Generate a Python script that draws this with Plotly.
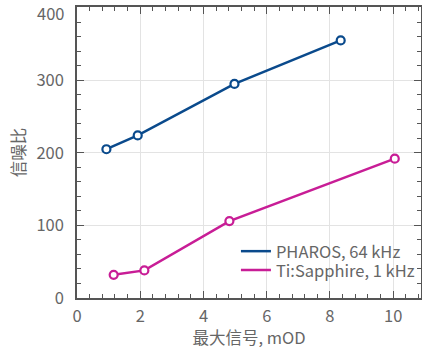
import plotly.graph_objects as go

pharos_x = [0.93, 1.92, 4.98, 8.34]
pharos_y = [205, 224, 295, 355]
ti_x = [1.16, 2.13, 4.82, 10.05]
ti_y = [32, 38, 106, 192]
series_names = ["PHAROS, 64 kHz", "Ti:Sapphire, 1 kHz"]
x_title = "最大信号, mOD"
y_title = "信噪比"
y_tickvals = [0, 100, 200, 300, 400]
y_ticktext = ["0", "100", "200", "300", ""]
y_top_label = "400"

BLUE = "#0a4a8c"
MAG = "#c81d96"
FONT = "Noto Sans CJK SC, Noto Sans, sans-serif"
FS = 16.5

fig = go.Figure()
for xs, ys, col in [(pharos_x, pharos_y, BLUE), (ti_x, ti_y, MAG)]:
    fig.add_trace(go.Scatter(
        x=xs, y=ys, mode="lines+markers", showlegend=False,
        line=dict(color=col, width=2.5),
        marker=dict(symbol="circle", size=8, color="white",
                    line=dict(color=col, width=2.2)),
    ))
for name, col, lg in [(series_names[0], BLUE, "legend"), (series_names[1], MAG, "legend2")]:
    fig.add_trace(go.Scatter(
        x=[None], y=[None], mode="lines", name=name, legend=lg,
        line=dict(color=col, width=2.5),
    ))

axis_common = dict(
    showline=True, linecolor="#555", linewidth=1.5, mirror="ticks",
    ticks="inside", ticklen=7, tickcolor="#555", tickwidth=1.2,
    showgrid=True, gridcolor="#e3e3e3", gridwidth=1,
    zeroline=False, automargin=False, ticklabeloverflow="allow",
    tickfont=dict(family=FONT, size=FS, color="#666"),
    title_font=dict(family=FONT, size=FS, color="#666"),
)

fig.update_xaxes(
    range=[0, 10.88], tickmode="linear", tick0=0, dtick=2,
    minor=dict(dtick=0.4, ticks="inside", ticklen=4, tickcolor="#555", showgrid=False),
    ticklabelstandoff=2,
    title_text=x_title, title_standoff=2, **axis_common)
fig.update_yaxes(
    range=[0, 401], tickmode="array", tickvals=y_tickvals, ticktext=y_ticktext,
    minor=dict(dtick=20, ticks="inside", ticklen=4, tickcolor="#555", showgrid=False),
    ticklabelstandoff=8,
    title_text=y_title, title_standoff=7, **axis_common)

fig.add_annotation(
    x=0, xref="paper", y=y_tickvals[-1], yref="y", text=y_top_label,
    showarrow=False, xanchor="right", yanchor="middle", xshift=-11, yshift=-5,
    font=dict(family=FONT, size=FS, color="#666"))

leg_common = dict(xanchor="left", yanchor="middle", bgcolor="rgba(0,0,0,0)",
                  font=dict(family=FONT, size=FS, color="#666"), itemwidth=30)
fig.update_layout(
    width=422, height=349,
    margin=dict(l=77, r=1, t=7, b=51, autoexpand=False),
    plot_bgcolor="white", paper_bgcolor="white",
    font=dict(family=FONT, size=FS, color="#666"),
    legend=dict(x=0.462, y=0.16, **leg_common),
    legend2=dict(x=0.462, y=0.095, **leg_common),
)

fig.write_html("out.html", config={"displayModeBar": False},
               post_script="document.body.style.margin='0';document.body.style.overflow='hidden';")
